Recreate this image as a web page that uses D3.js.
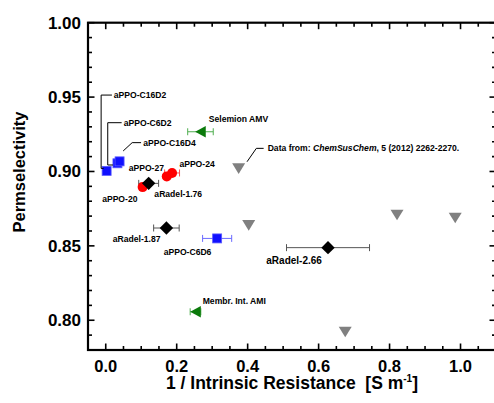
<!DOCTYPE html>
<html><head><meta charset="utf-8">
<script src="https://cdn.jsdelivr.net/npm/d3@7"></script>
<style>body{margin:0;background:#fff}svg{display:block;font-family:"Liberation Sans",Arial,sans-serif}</style>
</head><body><svg id="c" width="494" height="403"></svg>
<script>
// ---- data ----
const squareNames = ["aPPO-C16D2","aPPO-C6D2","aPPO-C16D4","aPPO-C6D6"];
const squareX     = [0.0025, 0.033, 0.039, 0.314];
const squareY     = [0.9004, 0.9055, 0.9068, 0.855];
const squareXErr  = [0, 0, 0, 0.041];

const circleNames = ["aPPO-20","aPPO-27","aPPO-24"];
const circleX     = [0.104, 0.172, 0.187];
const circleY     = [0.8895, 0.8967, 0.899];
const circleXErr  = [0, 0, 0.021];

const diamondNames = ["aRadel-1.76","aRadel-1.87","aRadel-2.66"];
const diamondX     = [0.121, 0.171, 0.6265];
const diamondY     = [0.892, 0.862, 0.8488];
const diamondXErr  = [0.028, 0.036, 0.117];

const greenNames = ["Selemion AMV","Membr. Int. AMI"];
const greenX     = [0.267, 0.253];
const greenY     = [0.9267, 0.8057];
const greenXErr  = [0.036, 0.015];

const grayX = [0.3746, 0.403, 0.675, 0.821, 0.985];
const grayY = [0.9019, 0.8638, 0.7921, 0.8707, 0.8687];

const xTickLabels = [0.0, 0.2, 0.4, 0.6, 0.8, 1.0];
const yTickLabels = [0.80, 0.85, 0.90, 0.95, 1.00];

// ---- layout ----
const svg = d3.select("#c");
const L = 88, R = 496, T = 22.7, B = 350;
const x = d3.scaleLinear().domain([-0.05, 1.1]).range([L, R]);
const y = d3.scaleLinear().domain([0.78, 1.0]).range([B, T]);

const g = svg.append("g");

// error bars
function errBars(xs, ys, es, color) {
  xs.forEach((v, i) => {
    if (!es[i]) return;
    const x0 = x(v - es[i]), x1 = x(v + es[i]), yy = y(ys[i]);
    g.append("line").attr("x1", x0).attr("x2", x1).attr("y1", yy).attr("y2", yy)
      .attr("stroke", color).attr("stroke-width", 1);
    [x0, x1].forEach(xx => g.append("line").attr("x1", xx).attr("x2", xx)
      .attr("y1", yy - 3.5).attr("y2", yy + 3.5).attr("stroke", color).attr("stroke-width", 1));
  });
}
errBars(greenX, greenY, greenXErr, "#4fae4f");
errBars(squareX, squareY, squareXErr, "#6b6bff");
errBars(circleX, circleY, circleXErr, "#ff5050");
errBars(diamondX, diamondY, diamondXErr, "#555");

// gray down triangles
grayX.forEach((v, i) => {
  const cx = x(v), cy = y(grayY[i]);
  g.append("path").attr("d", `M${cx-6.5},${cy-5.3}L${cx+6.5},${cy-5.3}L${cx},${cy+5.3}Z`).attr("fill", "#808080");
});
// green left triangles
greenX.forEach((v, i) => {
  const cx = x(v), cy = y(greenY[i]);
  g.append("path").attr("d", `M${cx+5.3},${cy-5.8}L${cx+5.3},${cy+5.8}L${cx-5.3},${cy}Z`).attr("fill", "#0b7a0b");
});
// blue squares
squareX.forEach((v, i) => {
  const cx = x(v), cy = y(squareY[i]);
  g.append("rect").attr("x", cx - 4.5).attr("y", cy - 4.5).attr("width", 9).attr("height", 9)
    .attr("fill", "#1010ff").attr("stroke", "#5a5aff").attr("stroke-width", 0.8);
});
// red circles
circleX.forEach((v, i) => {
  g.append("circle").attr("cx", x(v)).attr("cy", y(circleY[i])).attr("r", 5).attr("fill", "#ff0000");
});
// black diamonds
diamondX.forEach((v, i) => {
  const cx = x(v), cy = y(diamondY[i]);
  g.append("path").attr("d", `M${cx},${cy-6.7}L${cx+6.7},${cy}L${cx},${cy+6.7}L${cx-6.7},${cy}Z`).attr("fill", "#000");
});

// ---- annotations (pixel offsets from the marker) ----
function pt(xs, ys, names, n) { const i = names.indexOf(n); return [x(xs[i]), y(ys[i])]; }
const labels = [
  [pt(squareX, squareY, squareNames, "aPPO-C16D2"), "aPPO-C16D2", 7.1, -75.8],
  [pt(squareX, squareY, squareNames, "aPPO-C6D2"), "aPPO-C6D2", 6.3, -40.6],
  [pt(squareX, squareY, squareNames, "aPPO-C16D4"), "aPPO-C16D4", 23.6, -18.7],
  [pt(squareX, squareY, squareNames, "aPPO-C6D6"), "aPPO-C6D6", -53.5, 13.4],
  [pt(circleX, circleY, circleNames, "aPPO-27"), "aPPO-27", -38.1, -8.7],
  [pt(circleX, circleY, circleNames, "aPPO-24"), "aPPO-24", 7.3, -8.9],
  [pt(circleX, circleY, circleNames, "aPPO-20"), "aPPO-20", -40.5, 11.4],
  [pt(diamondX, diamondY, diamondNames, "aRadel-1.76"), "aRadel-1.76", 5.7, 10.9],
  [pt(diamondX, diamondY, diamondNames, "aRadel-1.87"), "aRadel-1.87", -53.7, 11],
  [pt(greenX, greenY, greenNames, "Selemion AMV"), "Selemion AMV", 8.3, -12.4],
  [pt(greenX, greenY, greenNames, "Membr. Int. AMI"), "Membr. Int. AMI", 7.2, -10.9]
];
labels.forEach(([p, t, dx, dy]) => {
  g.append("text").attr("x", p[0] + dx).attr("y", p[1] + dy).attr("dy", "0.35em")
    .attr("font-size", 8.6).attr("font-weight", "bold").text(t);
});
// big label
{
  const p = pt(diamondX, diamondY, diamondNames, "aRadel-2.66");
  g.append("text").attr("x", p[0] - 61.7).attr("y", p[1] + 13.2).attr("dy", "0.35em")
    .attr("font-size", 10).attr("font-weight", "bold").text("aRadel-2.66");
}
// Data from label
{
  const p = [x(grayX[0]), y(grayY[0])];
  const t = g.append("text").attr("x", p[0] + 29).attr("y", p[1] - 20.3).attr("dy", "0.35em")
    .attr("font-size", 8.6).attr("font-weight", "bold");
  t.append("tspan").text("Data from: ");
  t.append("tspan").attr("font-style", "italic").text("ChemSusChem");
  t.append("tspan").text(", 5 (2012) 2262-2270.");
  g.append("path").attr("d", `M${p[0]+25},${p[1]-20.3}L${p[0]+17.7},${p[1]-20.3}L${p[0]+8.4},${p[1]-6.9}`)
    .attr("fill", "none").attr("stroke", "#000").attr("stroke-width", 1);
}
// connectors for aPPO squares
{
  const a = pt(squareX, squareY, squareNames, "aPPO-C16D2");
  g.append("path").attr("d", `M${a[0]+5.3},${a[1]-75.8}H${a[0]-5.5}V${a[1]-2.5}H${a[0]-3}`)
    .attr("fill", "none").attr("stroke", "#000").attr("stroke-width", 1);
  const b = pt(squareX, squareY, squareNames, "aPPO-C6D2");
  g.append("path").attr("d", `M${b[0]+4.2},${b[1]-40.6}H${b[0]-9.7}V${b[1]+1.7}H${b[0]-4.5}`)
    .attr("fill", "none").attr("stroke", "#000").attr("stroke-width", 1);
  const c = pt(squareX, squareY, squareNames, "aPPO-C16D4");
  g.append("path").attr("d", `M${c[0]+21.5},${c[1]-18.7}H${c[0]+12.6}L${c[0]+3.6},${c[1]-10.4}`)
    .attr("fill", "none").attr("stroke", "#000").attr("stroke-width", 1);
}

// ---- axes ----
const ax = svg.append("g");
const xMinor = d3.range(0, 1.1001, 0.05).map(v => +v.toFixed(2));
const yMinor = d3.range(0.78, 1.0001, 0.01).map(v => +v.toFixed(2));
const isMajX = v => Math.abs(v * 5 - Math.round(v * 5)) < 1e-6 && v <= 1.0001;
const isMajY = v => Math.abs(v * 20 - Math.round(v * 20)) < 1e-6;
xMinor.forEach(v => {
  const len = isMajX(v) ? 6.5 : 4;
  ax.append("line").attr("x1", x(v)).attr("x2", x(v)).attr("y1", B).attr("y2", B - len).attr("stroke", "#000").attr("stroke-width", 1.6);
  ax.append("line").attr("x1", x(v)).attr("x2", x(v)).attr("y1", T).attr("y2", T + len).attr("stroke", "#000").attr("stroke-width", 1.6);
});
yMinor.forEach(v => {
  const len = isMajY(v) ? 6.5 : 4;
  ax.append("line").attr("y1", y(v)).attr("y2", y(v)).attr("x1", L).attr("x2", L + len).attr("stroke", "#000").attr("stroke-width", 1.6);
  ax.append("line").attr("y1", y(v)).attr("y2", y(v)).attr("x1", R).attr("x2", R - len).attr("stroke", "#000").attr("stroke-width", 1.6);
});
ax.append("rect").attr("x", L).attr("y", T).attr("width", R - L).attr("height", B - T)
  .attr("fill", "none").attr("stroke", "#000").attr("stroke-width", 2.2);

xTickLabels.forEach(v => {
  ax.append("text").attr("x", x(v)).attr("y", 371.5).attr("text-anchor", "middle")
    .attr("font-size", 16.5).attr("font-weight", "bold").text(d3.format(".1f")(v));
});
yTickLabels.forEach(v => {
  ax.append("text").attr("x", 81).attr("y", y(v)).attr("dy", "0.35em").attr("text-anchor", "end")
    .attr("font-size", 17).attr("font-weight", "bold").text(d3.format(".2f")(v));
});
// titles
const xt = ax.append("text").attr("x", 292).attr("y", 389).attr("text-anchor", "middle")
  .attr("font-size", 17.5).attr("font-weight", "bold").attr("xml:space", "preserve");
xt.append("tspan").text("1 / Intrinsic Resistance  [S m");
xt.append("tspan").attr("font-size", 10).attr("dy", -7).text("-1");
xt.append("tspan").attr("dy", 7).text("]");
ax.append("text").attr("transform", "translate(25,172) rotate(-90)").attr("text-anchor", "middle")
  .attr("font-size", 16.5).attr("font-weight", "bold").text("Permselectivity");
</script></body></html>
